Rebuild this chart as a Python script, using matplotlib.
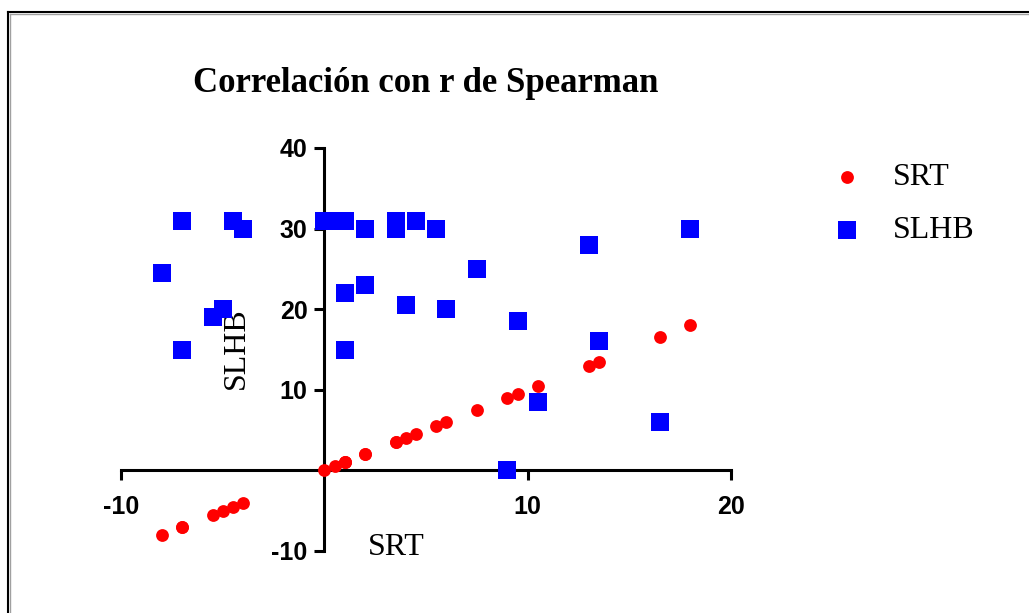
import numpy as np
import matplotlib
matplotlib.use('Agg')
import matplotlib.pyplot as plt
from matplotlib.lines import Line2D

plt.rcParams['axes.unicode_minus'] = False

# Data
srt = [-8, -7, -7, -5.5, -5, -4.5, -4, 0, 0.5, 1, 1, 1, 2, 2, 3.5, 3.5,
       4, 4.5, 5.5, 6, 7.5, 9, 9.5, 10.5, 13, 13.5, 16.5, 18]
slhb = [24.5, 31, 15, 19, 20, 31, 30, 31, 31, 31, 22, 15, 30, 23, 31, 30,
        20.5, 31, 30, 20, 25, 0, 18.5, 8.5, 28, 16, 6, 30]
xticks = [-10, 10, 20]
yticks = [-10, 10, 20, 30, 40]

serif = 'Liberation Serif'
sans = 'Liberation Sans'

fig = plt.figure(figsize=(10.29, 6.13), dpi=100)
ax = fig.add_axes([121/1029, 62/613, 610/1029, 403/613])

ax.scatter(srt, srt, s=85, c='#ff0000', marker='o', linewidths=0, label='SRT', zorder=3)
ax.scatter(srt, slhb, s=165, c='#0000ff', marker='s', linewidths=0, label='SLHB', zorder=3)

ax.set_xlim(-10, 20)
ax.set_ylim(-10, 40)
ax.spines['left'].set_position(('data', 0))
ax.spines['bottom'].set_position(('data', 0))
ax.spines['top'].set_visible(False)
ax.spines['right'].set_visible(False)
for s in ['left', 'bottom']:
    ax.spines[s].set_linewidth(2.2)
ax.set_xticks(xticks)
ax.set_yticks(yticks)
ax.tick_params(width=2.2, length=7, direction='out')
ax.tick_params(axis='x', pad=11)
ax.tick_params(axis='y', pad=5)
for lab in ax.get_xticklabels() + ax.get_yticklabels():
    lab.set_fontfamily(sans)
    lab.set_fontweight('bold')
    lab.set_fontsize(18)

ax.set_xlabel('SRT', fontsize=23, family=serif, va='center')
ax.xaxis.set_label_coords(0.451, 0.008)
ax.set_ylabel('SLHB', fontsize=23, family=serif, va='center')
ax.yaxis.set_label_coords(0.1885, 0.504)

ax.set_title('Correlación con r de Spearman', fontsize=25, family=serif,
             fontweight='bold', pad=40)

fig.legend(loc='upper left', bbox_to_anchor=(818/1029, 1 - 150/613), frameon=False,
           prop={'family': serif, 'size': 23}, handlelength=1.0, handletextpad=0.95,
           labelspacing=0.75, borderaxespad=0)

# frame at top and left
fig.add_artist(Line2D([8/1029, 1], [1 - 12/613, 1 - 12/613], color='black', lw=1.5))
fig.add_artist(Line2D([8/1029, 8/1029], [0, 1 - 12/613], color='black', lw=1.5))
fig.add_artist(Line2D([10/1029, 1], [1 - 14/613, 1 - 14/613], color='#a0a0a0', lw=1))
fig.add_artist(Line2D([10/1029, 10/1029], [0, 1 - 14/613], color='#a0a0a0', lw=1))

fig.savefig('out.png', dpi=100)
